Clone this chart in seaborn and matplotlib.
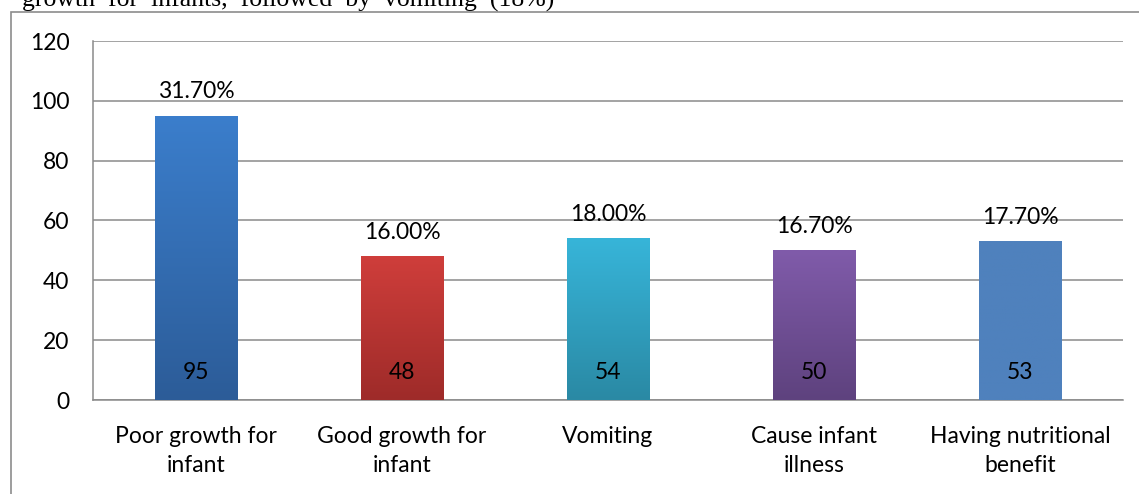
import numpy as np
import pandas as pd
import matplotlib
matplotlib.use("Agg")
import matplotlib.pyplot as plt
from matplotlib.colors import LinearSegmentedColormap
from matplotlib.patches import Rectangle
import seaborn as sns

# Data
categories = ["Poor growth for\ninfant", "Good growth for\ninfant", "Vomiting",
              "Cause infant\nillness", "Having nutritional\nbenefit"]
counts = [95, 48, 54, 50, 53]
percents = ["31.70%", "16.00%", "18.00%", "16.70%", "17.70%"]

# Bar fills: (top colour, bottom colour)
gradients = [("#3B7ECC", "#2C5C98"), ("#CF3E3B", "#9E2B29"), ("#37B5D9", "#2A89A4"),
             ("#805BAA", "#5E427E"), ("#4F81BD", "#4F81BD")]

FS = 16.5

sns.set_theme(style="white")
plt.rcParams["font.family"] = ["Lato", "DejaVu Sans"]

fig = plt.figure(figsize=(11.39, 4.94), dpi=100)
ax = fig.add_axes([93 / 1139, 1 - 400 / 494, (1123 - 93) / 1139, 359 / 494])

df = pd.DataFrame({"category": categories, "count": counts})
sns.barplot(data=df, x="category", y="count", hue="category", palette=[g[0] for g in gradients],
            legend=False, width=0.4, ax=ax, saturation=1, zorder=3)

# Vertical gradient overlay clipped to each bar
for patch, (top, bottom) in zip(ax.patches, gradients):
    x0, y0 = patch.get_x(), patch.get_y()
    w, h = patch.get_width(), patch.get_height()
    cmap = LinearSegmentedColormap.from_list("g", [bottom, top])
    grad = np.linspace(0, 1, 256).reshape(-1, 1)
    im = ax.imshow(grad, cmap=cmap, origin="lower", aspect="auto",
                   extent=(x0, x0 + w, y0, y0 + h), zorder=4)
    im.set_clip_path(patch)
    patch.set_edgecolor("none")

ax.set_xlim(-0.5, 4.5)
ax.set_ylim(0, 120)
ax.set_yticks(range(0, 121, 20))
ax.set_xlabel("")
ax.set_ylabel("")

grid_col = "#8A8A8A"
ax.yaxis.grid(True, color=grid_col, linewidth=1.1, zorder=0)
ax.set_axisbelow(True)
for s in ["top", "right"]:
    ax.spines[s].set_visible(False)
for s in ["left", "bottom"]:
    ax.spines[s].set_color(grid_col)
    ax.spines[s].set_linewidth(1.1)

# Category separator ticks
ax.set_xticks(np.arange(-0.5, 5.0, 1.0), minor=True)
ax.tick_params(axis="x", which="minor", length=6, width=1.1, color=grid_col, direction="out")
ax.tick_params(axis="x", which="major", length=0, pad=19, labelsize=FS, labelcolor="black")
ax.tick_params(axis="y", length=6, width=1.1, color=grid_col, direction="out", pad=11,
               labelsize=FS, labelcolor="black")
for lbl in ax.get_xticklabels():
    lbl.set_linespacing(1.42)

# Value labels
for i, (c, p) in enumerate(zip(counts, percents)):
    ax.annotate(p, (i, c), xytext=(0, 10), textcoords="offset points",
                ha="center", va="bottom", fontsize=FS, color="black", zorder=6)
    ax.annotate(str(c), (i, 0), xytext=(0, 12), textcoords="offset points",
                ha="center", va="bottom", fontsize=FS, color="black", zorder=6)

# Surrounding frame
fig.patches.append(Rectangle((11 / 1139, -0.1), 1.2, 1.1 - 12 / 494, transform=fig.transFigure,
                             fill=False, edgecolor="#8C8C8C", linewidth=1.2))

# Running text above the frame (justified line, wide word spacing)
fig.text(22 / 1139, 1 - 7 / 494, "growth  for  infants,  followed  by  vomiting  (18%)",
         family=["Liberation Serif", "DejaVu Serif"], fontsize=18.5, va="baseline", ha="left",
         color="black")

fig.savefig("out.png", dpi=100)
